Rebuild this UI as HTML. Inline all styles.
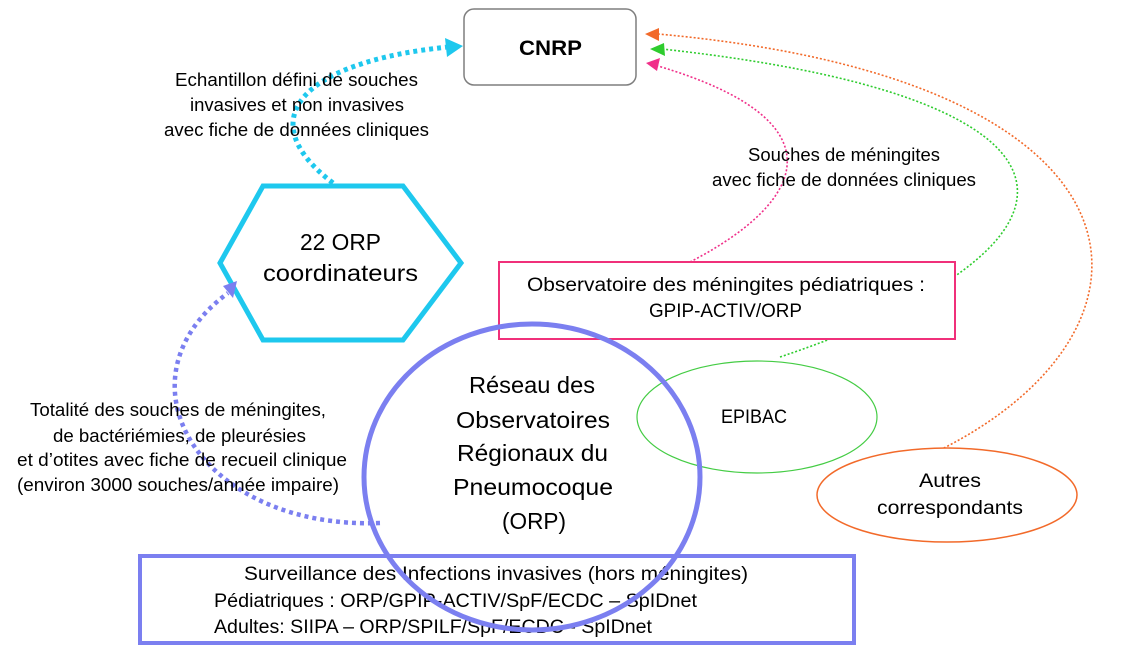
<!DOCTYPE html>
<html><head><meta charset="utf-8"><style>
html,body{margin:0;padding:0;background:#fff;}
svg{display:block;font-family:"Liberation Sans",sans-serif;}
</style></head><body>
<svg width="1127" height="654" viewBox="0 0 1127 654" xmlns="http://www.w3.org/2000/svg">
<rect x="464" y="9" width="172" height="76" rx="10" fill="#fff" stroke="#7f7f7f" stroke-width="1.5"/>
<text x="519" y="55" font-size="21" font-weight="bold" textLength="63" lengthAdjust="spacingAndGlyphs">CNRP</text>

<path d="M940,450 C1180,330 1170,80 658,34" fill="none" stroke="#f26a2a" stroke-width="1.6" stroke-dasharray="2,2"/>
<polygon points="645,34 659,28 659,41" fill="#f26a2a"/>
<path d="M780,357 C1100,250 1130,100 662,49" fill="none" stroke="#2ecc2e" stroke-width="1.6" stroke-dasharray="2,2"/>
<polygon points="650,49 664,43 665,56" fill="#2ecc2e"/>
<path d="M690,262 C810,200 840,120 658,66" fill="none" stroke="#f0308a" stroke-width="1.6" stroke-dasharray="2,2"/>
<polygon points="646,63 660,58 657,71" fill="#f0308a"/>

<text x="748" y="161" font-size="18" textLength="192" lengthAdjust="spacingAndGlyphs">Souches de méningites</text>
<text x="712" y="186" font-size="18" textLength="264" lengthAdjust="spacingAndGlyphs">avec fiche de données cliniques</text>

<path d="M333,183 C250,120 300,62 448,47" fill="none" stroke="#1ec8ee" stroke-width="5" stroke-dasharray="4,4"/>
<polygon points="445,38 463,46 447,57" fill="#1ec8ee"/>
<text x="175" y="86" font-size="18" textLength="243" lengthAdjust="spacingAndGlyphs">Echantillon défini de souches</text>
<text x="190" y="111" font-size="18" textLength="214" lengthAdjust="spacingAndGlyphs">invasives et non invasives</text>
<text x="164" y="136" font-size="18" textLength="265" lengthAdjust="spacingAndGlyphs">avec fiche de données cliniques</text>

<polygon points="220,263 263,186 403,186 461,263 403,340 263,340" fill="#fff" stroke="#1ec8ee" stroke-width="5"/>
<text x="300" y="250" font-size="23" textLength="81" lengthAdjust="spacingAndGlyphs">22 ORP</text>
<text x="263" y="281" font-size="23" textLength="155" lengthAdjust="spacingAndGlyphs">coordinateurs</text>

<rect x="499" y="262" width="456" height="77" fill="#fff" stroke="#f0307a" stroke-width="2"/>
<text x="527" y="291" font-size="19" textLength="398" lengthAdjust="spacingAndGlyphs">Observatoire des méningites pédiatriques :</text>
<text x="649" y="317" font-size="19" textLength="153" lengthAdjust="spacingAndGlyphs">GPIP-ACTIV/ORP</text>

<path d="M380,523 C200,530 110,380 228,293" fill="none" stroke="#7b7ff0" stroke-width="4.5" stroke-dasharray="4,4"/>
<polygon points="223,286 237,281 233,298" fill="#7b7ff0"/>
<text x="30" y="416" font-size="18" textLength="296" lengthAdjust="spacingAndGlyphs">Totalité des souches de méningites,</text>
<text x="53" y="442" font-size="18" textLength="253" lengthAdjust="spacingAndGlyphs">de bactériémies, de pleurésies</text>
<text x="17" y="466" font-size="18" textLength="330" lengthAdjust="spacingAndGlyphs">et d’otites avec fiche de recueil clinique</text>
<text x="17" y="491" font-size="18" textLength="322" lengthAdjust="spacingAndGlyphs">(environ 3000 souches/année impaire)</text>

<ellipse cx="757" cy="417" rx="120" ry="56" fill="none" stroke="#44cc44" stroke-width="1.2"/>
<text x="721" y="423" font-size="19" textLength="66" lengthAdjust="spacingAndGlyphs">EPIBAC</text>

<ellipse cx="947" cy="495" rx="130" ry="47" fill="#fff" stroke="#f26a2a" stroke-width="1.5"/>
<text x="919" y="487" font-size="19" textLength="62" lengthAdjust="spacingAndGlyphs">Autres</text>
<text x="877" y="514" font-size="19" textLength="146" lengthAdjust="spacingAndGlyphs">correspondants</text>

<rect x="140" y="556" width="714" height="87" fill="#fff" stroke="#7b7ff0" stroke-width="4"/>
<text x="244" y="580" font-size="19" textLength="504" lengthAdjust="spacingAndGlyphs">Surveillance des Infections invasives (hors méningites)</text>
<text x="214" y="607" font-size="19" textLength="483" lengthAdjust="spacingAndGlyphs">Pédiatriques : ORP/GPIP-ACTIV/SpF/ECDC – SpIDnet</text>
<text x="214" y="633" font-size="19" textLength="438" lengthAdjust="spacingAndGlyphs">Adultes: SIIPA – ORP/SPILF/SpF/ECDC - SpIDnet</text>

<ellipse cx="532" cy="477" rx="168" ry="153" fill="none" stroke="#7b7ff0" stroke-width="5"/>
<text x="469" y="393" font-size="23" textLength="126" lengthAdjust="spacingAndGlyphs">Réseau des</text>
<text x="456" y="428" font-size="23" textLength="154" lengthAdjust="spacingAndGlyphs">Observatoires</text>
<text x="457" y="461" font-size="23" textLength="151" lengthAdjust="spacingAndGlyphs">Régionaux du</text>
<text x="453" y="495" font-size="23" textLength="160" lengthAdjust="spacingAndGlyphs">Pneumocoque</text>
<text x="502" y="529" font-size="23" textLength="64" lengthAdjust="spacingAndGlyphs">(ORP)</text>
</svg>
</body></html>
